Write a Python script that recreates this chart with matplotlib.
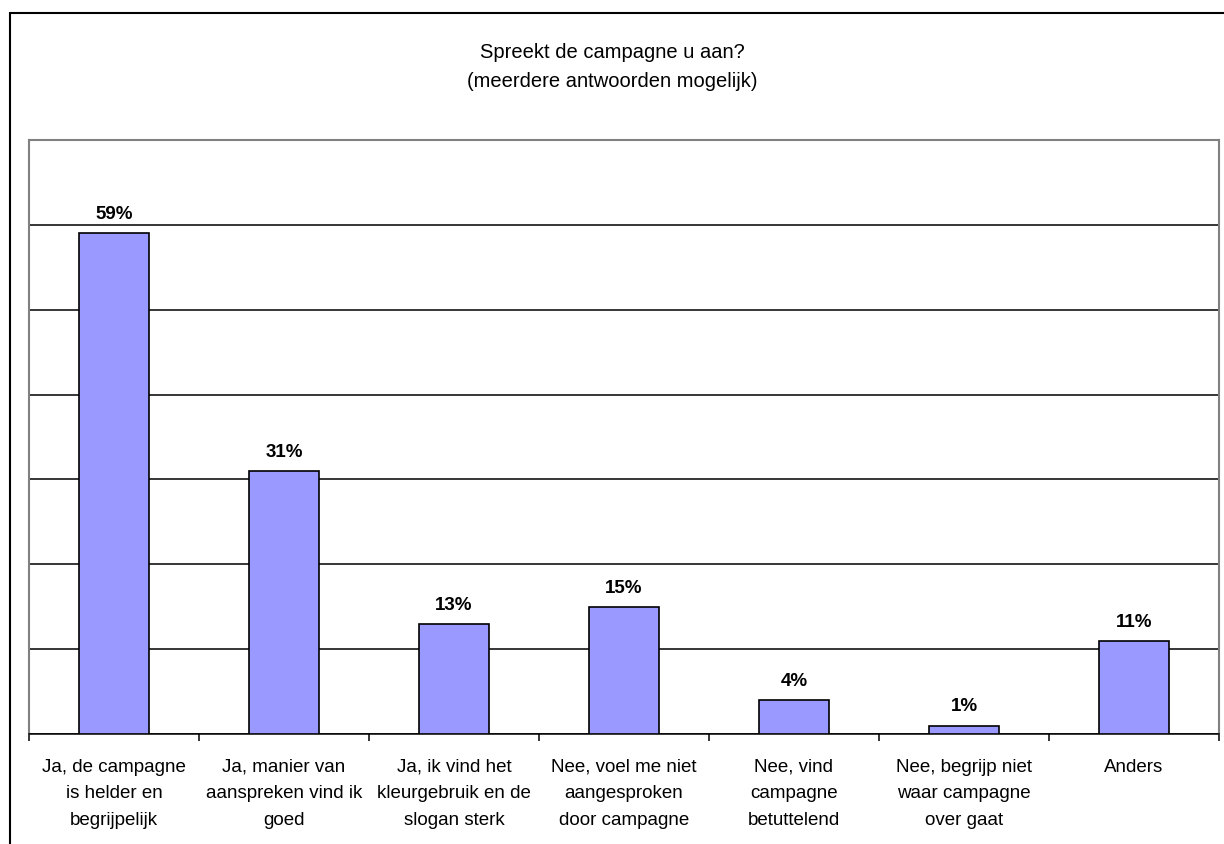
import numpy as np
import matplotlib.pyplot as plt
from matplotlib.patches import Rectangle

categories = [
    "Ja, de campagne\nis helder en\nbegrijpelijk",
    "Ja, manier van\naanspreken vind ik\ngoed",
    "Ja, ik vind het\nkleurgebruik en de\nslogan sterk",
    "Nee, voel me niet\naangesproken\ndoor campagne",
    "Nee, vind\ncampagne\nbetuttelend",
    "Nee, begrijp niet\nwaar campagne\nover gaat",
    "Anders",
]
values = [59, 31, 13, 15, 4, 1, 11]
title = "Spreekt de campagne u aan?\n(meerdere antwoorden mogelijk)"

plt.rcParams['font.family'] = ['Liberation Sans', 'DejaVu Sans']

fig = plt.figure(figsize=(12.24, 8.45), dpi=100)
ax = fig.add_axes([29 / 1224, 110 / 845, 1190 / 1224, 594 / 845])

# outer frame running off the right and bottom edge
fig.patches.append(Rectangle((10 / 1224, -0.1), 1.2, 0.1 + (1 - 14 / 845),
                             transform=fig.transFigure, fill=False,
                             edgecolor='black', linewidth=1.5))

x = np.arange(len(values))
ax.bar(x, values, width=0.41, color='#9999ff', edgecolor='black',
       linewidth=1.2, zorder=3)
for xi, v in zip(x, values):
    ax.annotate(f"{v}%", (xi, v), xytext=(0, 8), textcoords='offset points',
                ha='center', va='bottom', fontsize=13.5, fontweight='bold')

ax.set_xlim(-0.5, len(values) - 0.5)
ax.set_ylim(0, 70)
ax.set_yticks(np.arange(0, 71, 10))
ax.yaxis.grid(True, color='black', linewidth=1.1)
ax.set_axisbelow(True)
ax.tick_params(axis='y', left=False, labelleft=False)

ax.set_xticks(x)
ax.set_xticklabels(categories, fontsize=13.5, linespacing=1.75)
ax.set_xticks(np.arange(-0.5, len(values)), minor=True)
ax.tick_params(axis='x', which='major', length=0, pad=17)
ax.tick_params(axis='x', which='minor', length=5, width=1.1, direction='out')

for side in ['left', 'top', 'right']:
    ax.spines[side].set_color('#808080')
    ax.spines[side].set_linewidth(1.5)
ax.spines['bottom'].set_color('black')
ax.spines['bottom'].set_linewidth(1.1)

fig.text(0.5, 1 - 67 / 845, title, ha='center', va='center',
         fontsize=14.5, linespacing=1.65)

fig.savefig('out.png', dpi=100)
